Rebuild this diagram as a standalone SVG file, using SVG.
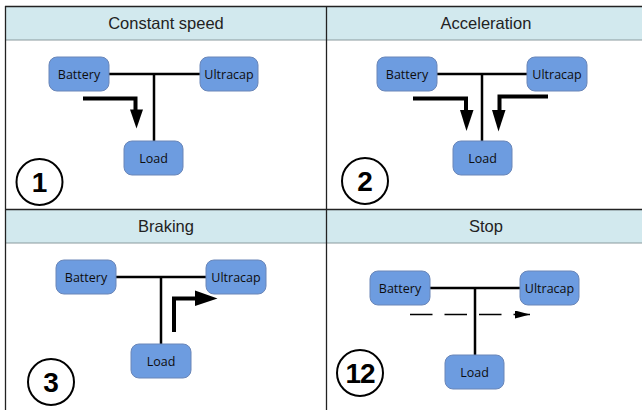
<svg xmlns="http://www.w3.org/2000/svg" width="642" height="410" viewBox="0 0 642 410">
  <defs>
    <style>
      .hdr { fill: #d2e9ee; }
      .grid { stroke: #222; stroke-width: 1.3; fill: none; }
      .hline { stroke: #8a9a9e; stroke-width: 1; }
      .title { font-family: "Liberation Sans", Arial, sans-serif; font-size: 16.5px; fill: #222; text-anchor: middle; }
      .box { fill: #6d9ce0; stroke: #6a86b8; stroke-width: 1; }
      .lbl { font-family: "Open Sans", "DejaVu Sans", sans-serif; font-size: 12.5px; fill: #0d0d0d; text-anchor: middle; }
      .wire { stroke: #000; stroke-width: 2.5; fill: none; }
      .flow { stroke: #000; stroke-width: 4; fill: none; stroke-linejoin: miter; }
      .head { fill: #000; }
      .badge { fill: #fff; stroke: #000; stroke-width: 2; }
      .num { font-family: "Liberation Sans", Arial, sans-serif; font-size: 28px; font-weight: bold; fill: #000; text-anchor: middle; }
    </style>
    <marker id="dashHead" markerWidth="16" markerHeight="8" refX="15" refY="4" orient="auto" markerUnits="userSpaceOnUse">
      <polygon points="0,0 15,4 0,8" fill="#000"/>
    </marker>
  </defs>

  <rect width="642" height="410" fill="#fff"/>

  <!-- table -->
  <g id="table">
    <rect class="hdr" x="5" y="6" width="637" height="34"/>
    <rect class="hdr" x="5" y="209" width="637" height="34"/>
    <line class="hline" x1="5" y1="40" x2="642" y2="40"/>
    <line class="hline" x1="5" y1="243" x2="642" y2="243"/>
    <line class="grid" x1="5" y1="6.5" x2="642" y2="6.5"/>
    <line class="grid" x1="5" y1="209.5" x2="642" y2="209.5"/>
    <line class="grid" x1="5.5" y1="6" x2="5.5" y2="410"/>
    <line class="grid" x1="326.5" y1="6" x2="326.5" y2="410"/>
    <text class="title" x="166" y="29">Constant speed</text>
    <text class="title" x="486" y="29">Acceleration</text>
    <text class="title" x="166" y="232">Braking</text>
    <text class="title" x="486" y="232">Stop</text>
  </g>

  <!-- connectors -->
  <g id="connectors">
    <!-- panel 1 -->
    <path class="wire" d="M109,74 H200 M154,74 V141"/>
    <path class="flow" d="M83,98.5 H135.5 V111"/>
    <polygon class="head" points="130,109.5 143,109.5 136.5,128.5"/>
    <!-- panel 2 -->
    <path class="wire" d="M437,74 H527 M482,74 V141"/>
    <path class="flow" d="M413,98.5 H466 V111"/>
    <polygon class="head" points="460,110 473.5,110 466.5,131"/>
    <path class="flow" d="M548,96.5 H499.5 V111"/>
    <polygon class="head" points="492,110 505.5,110 498.5,131.5"/>
    <!-- panel 3 -->
    <path class="wire" d="M116,277 H206 M161,277 V344"/>
    <path class="flow" d="M174,332 V298.5 H196"/>
    <polygon class="head" points="195,290.5 217.5,298.5 195,306"/>
    <!-- panel 4 -->
    <path class="wire" d="M430,288 H520 M475,288 V355"/>
    <path d="M410,314.5 H530" stroke="#000" stroke-width="1.5" fill="none" stroke-dasharray="22.5,12" marker-end="url(#dashHead)"/>
  </g>

  <!-- panel 1 nodes -->
  <g id="p1-battery"><rect class="box" x="49" y="57" width="60" height="34" rx="8"/><text class="lbl" x="79" y="78.5">Battery</text></g>
  <g id="p1-ultracap"><rect class="box" x="200" y="57" width="58" height="34" rx="8"/><text class="lbl" x="229" y="78.5">Ultracap</text></g>
  <g id="p1-load"><rect class="box" x="124" y="141" width="59" height="34" rx="8"/><text class="lbl" x="153.5" y="162.5">Load</text></g>
  <g id="p1-badge"><circle class="badge" cx="39.5" cy="182" r="23"/><text class="num" x="39.5" y="192">1</text></g>

  <!-- panel 2 nodes -->
  <g id="p2-battery"><rect class="box" x="377" y="57" width="60" height="34" rx="8"/><text class="lbl" x="407" y="78.5">Battery</text></g>
  <g id="p2-ultracap"><rect class="box" x="527" y="57" width="60" height="34" rx="8"/><text class="lbl" x="557" y="78.5">Ultracap</text></g>
  <g id="p2-load"><rect class="box" x="453" y="141" width="59" height="34" rx="8"/><text class="lbl" x="482.5" y="162.5">Load</text></g>
  <g id="p2-badge"><circle class="badge" cx="365" cy="181" r="23"/><text class="num" x="365" y="191">2</text></g>

  <!-- panel 3 nodes -->
  <g id="p3-battery"><rect class="box" x="56" y="260" width="60" height="34" rx="8"/><text class="lbl" x="86" y="281.5">Battery</text></g>
  <g id="p3-ultracap"><rect class="box" x="206" y="260" width="60" height="34" rx="8"/><text class="lbl" x="236" y="281.5">Ultracap</text></g>
  <g id="p3-load"><rect class="box" x="131" y="344" width="60" height="34" rx="8"/><text class="lbl" x="161" y="365.5">Load</text></g>
  <g id="p3-badge"><circle class="badge" cx="51" cy="382" r="23"/><text class="num" x="51" y="392">3</text></g>

  <!-- panel 4 nodes -->
  <g id="p4-battery"><rect class="box" x="370" y="271" width="60" height="34" rx="8"/><text class="lbl" x="400" y="292.5">Battery</text></g>
  <g id="p4-ultracap"><rect class="box" x="520" y="271" width="59" height="34" rx="8"/><text class="lbl" x="549.5" y="292.5">Ultracap</text></g>
  <g id="p4-load"><rect class="box" x="445" y="355" width="59" height="34" rx="8"/><text class="lbl" x="474.5" y="376.5">Load</text></g>
  <g id="p4-badge"><circle class="badge" cx="360" cy="373" r="23"/><text class="num" x="360" y="383" letter-spacing="-1">12</text></g>
</svg>
